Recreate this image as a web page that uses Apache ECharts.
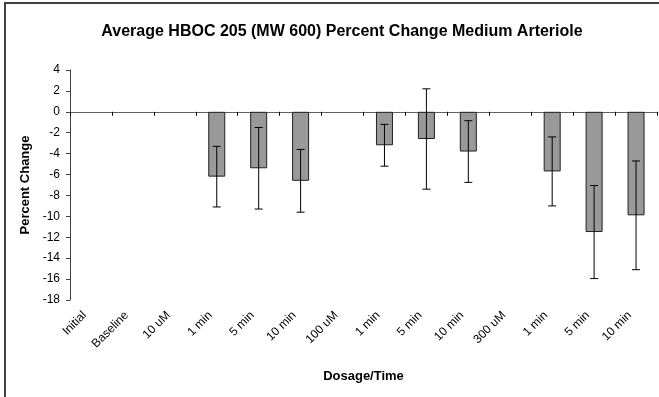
<!DOCTYPE html>
<html>
<head>
<meta charset="utf-8">
<script src="https://cdn.jsdelivr.net/npm/echarts@6/dist/echarts.min.js"></script>
<style>
html,body{margin:0;padding:0;background:#fff;}
#chart{width:659px;height:397px;}
</style>
</head>
<body>
<div id="chart"></div>
<script>
const categories = ['Initial','Baseline','10 uM','1 min','5 min','10 min','100 uM','1 min','5 min','10 min','300 uM','1 min','5 min','10 min'];
const meanValues = [null, null, null, -6.2, -5.4, -6.6, null, -3.2, -2.6, -3.8, null, -5.7, -11.5, -9.9];
const errorValues = [null, null, null, 2.9, 3.9, 3.0, null, 2.0, 4.8, 2.95, null, 3.3, 4.45, 5.2];
const yTicks = {min: -18, max: 4, interval: 2};

const FONT = '"Liberation Sans", Arial, sans-serif';
const chart = echarts.init(document.getElementById('chart'), null, {renderer: 'canvas'});

const errData = categories.map((c, i) => meanValues[i] == null ? [i, null, null] : [i, meanValues[i] - errorValues[i], meanValues[i] + errorValues[i]]);

chart.setOption({
  animation: false,
  backgroundColor: '#ffffff',
  title: {
    text: 'Average HBOC 205 (MW 600) Percent Change Medium Arteriole',
    left: 337, top: 19, textAlign: 'center',
    textStyle: {fontFamily: FONT, fontSize: 16, fontWeight: 'bold', color: '#000'}
  },
  graphic: [{
    type: 'rect', shape: {x: 5, y: 3, width: 700, height: 500},
    style: {fill: 'none', stroke: '#404040', lineWidth: 2}, silent: true
  }],
  grid: {left: 70, right: 2, top: 70, bottom: 97},
  xAxis: [{
    type: 'category', data: categories, position: 'bottom',
    axisLine: {show: false, onZero: false}, axisTick: {show: false},
    axisLabel: {rotate: 45, interval: 0, margin: 7, padding: [0, 9, 0, 0], fontFamily: FONT, fontSize: 12, color: '#000'},
    name: 'Dosage/Time', nameLocation: 'middle', nameGap: 70,
    nameTextStyle: {fontFamily: FONT, fontSize: 13, fontWeight: 'bold', color: '#000'}
  }, {
    type: 'category', data: categories, position: 'top',
    axisLine: {show: true, onZero: true, lineStyle: {color: '#606060', width: 1}},
    axisTick: {show: true, inside: true, length: 4, interval: 0, lineStyle: {color: '#000'}},
    axisLabel: {show: false}
  }],
  yAxis: {
    type: 'value', min: yTicks.min, max: yTicks.max, interval: yTicks.interval,
    splitLine: {show: false},
    axisLine: {show: true, lineStyle: {color: '#404040'}},
    axisTick: {show: true, length: 4, lineStyle: {color: '#404040'}},
    axisLabel: {margin: 10, fontFamily: FONT, fontSize: 12, color: '#000'},
    name: 'Percent Change', nameLocation: 'middle', nameGap: 31,
    nameTextStyle: {fontFamily: FONT, fontSize: 13, fontWeight: 'bold', color: '#000'}
  },
  series: [{
    type: 'bar', xAxisIndex: 0, data: meanValues, barWidth: 17,
    itemStyle: {color: '#999999', borderColor: '#202020', borderWidth: 1}
  }, {
    type: 'custom', xAxisIndex: 0, data: errData, z: 5,
    renderItem: function (params, api) {
      const lo = api.value(1), hi = api.value(2);
      if (lo == null || isNaN(lo)) return null;
      const x = api.value(0);
      const p1 = api.coord([x, hi]);
      const p2 = api.coord([x, lo]);
      const cw = 4;
      const st = {stroke: '#000', lineWidth: 1};
      return {type: 'group', children: [
        {type: 'line', shape: {x1: p1[0], y1: p1[1], x2: p2[0], y2: p2[1]}, style: st},
        {type: 'line', shape: {x1: p1[0]-cw, y1: p1[1], x2: p1[0]+cw, y2: p1[1]}, style: st},
        {type: 'line', shape: {x1: p2[0]-cw, y1: p2[1], x2: p2[0]+cw, y2: p2[1]}, style: st}
      ]};
    }
  }]
});
</script>
</body>
</html>
